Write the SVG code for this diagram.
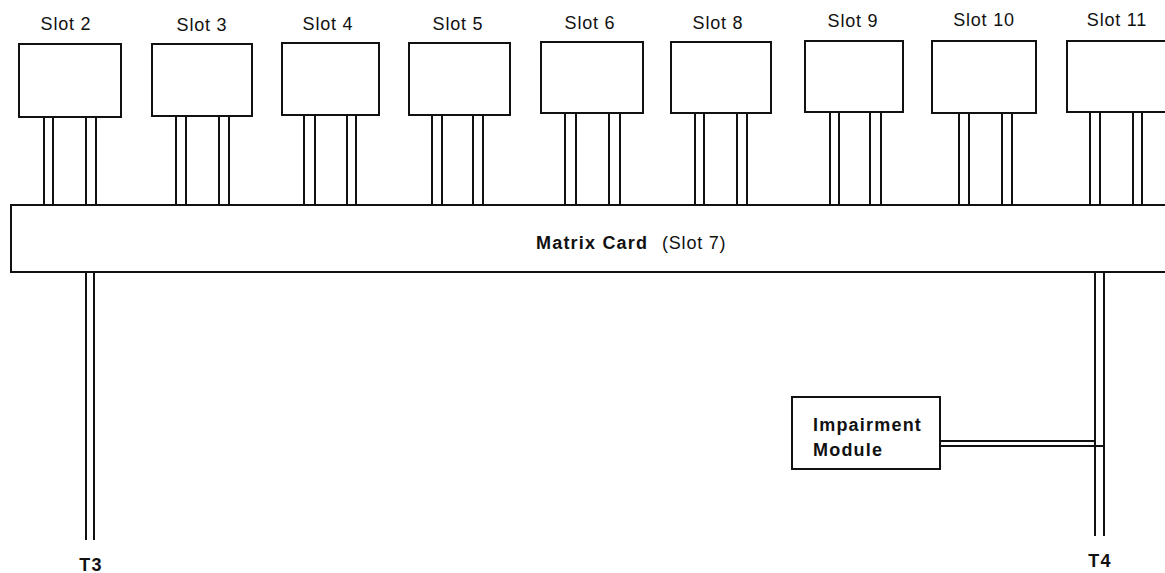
<svg xmlns="http://www.w3.org/2000/svg" width="1165" height="573" viewBox="0 0 1165 573">
<style>
.box{fill:#fff;stroke:#111;stroke-width:2}
.ln{stroke:#111;stroke-width:2;fill:none}
.lbl{font-family:"Liberation Sans",Arial,sans-serif;font-size:18px;fill:#111;text-anchor:middle;letter-spacing:0.8px}
.b{font-weight:bold;letter-spacing:1.2px}
</style>
<rect width="1165" height="573" fill="#fff"/>
<g id="connectors" class="ln">
<path d="M44 117V206M53 117V206M86 117V206M96 117V206"/>
<path d="M176 116V206M186 116V206M219 116V206M229 116V206"/>
<path d="M304 115V206M315 115V206M347 115V206M356 115V206"/>
<path d="M432 115V206M442 115V206M473 115V206M483 115V206"/>
<path d="M565 113V205M576 113V205M609 113V205M620 113V205"/>
<path d="M695 113V205M704 113V205M737 113V205M747 113V205"/>
<path d="M830 112V205M839 112V205M870 112V205M881 112V205"/>
<path d="M959 113V204M969 113V204M1002 113V204M1012 113V204"/>
<path d="M1090 112V204M1100 112V204M1133 112V204M1142 112V204"/>
<path d="M86 273V540M94 273V540"/>
<path d="M1095 271V536M1104 271V536"/>
<path d="M940 441H1095M940 446H1104"/>
</g>
<g id="slot2"><rect class="box" x="19" y="44" width="102" height="73"/><text class="lbl" x="66" y="30">Slot 2</text></g>
<g id="slot3"><rect class="box" x="152" y="44" width="100" height="72"/><text class="lbl" x="202" y="31">Slot 3</text></g>
<g id="slot4"><rect class="box" x="282" y="43" width="97" height="72"/><text class="lbl" x="328" y="30">Slot 4</text></g>
<g id="slot5"><rect class="box" x="409" y="43" width="101" height="72"/><text class="lbl" x="458" y="30">Slot 5</text></g>
<g id="slot6"><rect class="box" x="541" y="42" width="102" height="71"/><text class="lbl" x="590" y="29">Slot 6</text></g>
<g id="slot8"><rect class="box" x="671" y="42" width="100" height="71"/><text class="lbl" x="718" y="29">Slot 8</text></g>
<g id="slot9"><rect class="box" x="805" y="41" width="98" height="71"/><text class="lbl" x="853" y="27">Slot 9</text></g>
<g id="slot10"><rect class="box" x="932" y="41" width="104" height="72"/><text class="lbl" x="984" y="26">Slot 10</text></g>
<g id="slot11"><rect class="box" x="1067" y="41" width="100" height="71"/><text class="lbl" x="1117" y="26">Slot 11</text></g>
<g id="matrix"><rect class="box" x="11" y="205" width="1160" height="67"/><text class="lbl" x="536" y="249" style="text-anchor:start"><tspan class="b">Matrix Card</tspan><tspan x="662">(Slot 7)</tspan></text></g>
<g id="impairment"><rect class="box" x="792" y="397" width="148" height="72"/><text class="lbl b" x="813" y="431" style="text-anchor:start">Impairment</text><text class="lbl b" x="813" y="456" style="text-anchor:start">Module</text></g>
<g id="t3"><text class="lbl b" x="91" y="571">T3</text></g>
<g id="t4"><text class="lbl b" x="1100" y="567">T4</text></g>
</svg>
